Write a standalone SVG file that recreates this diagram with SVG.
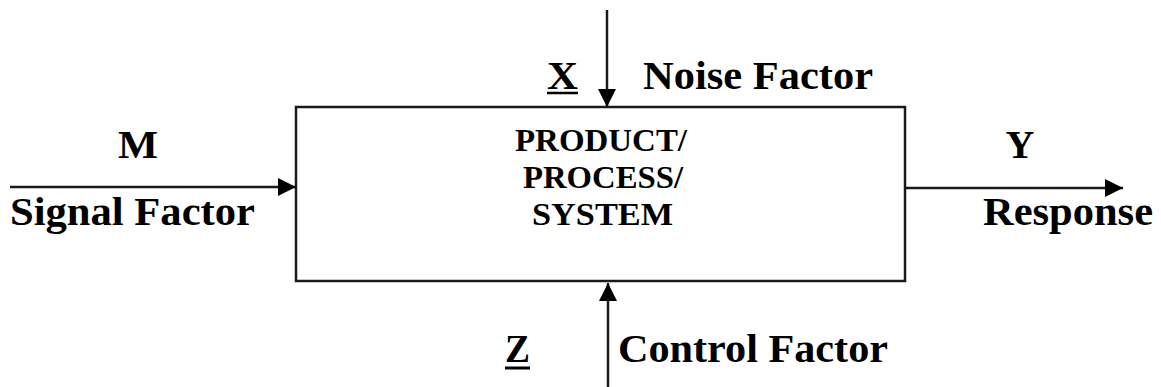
<svg xmlns="http://www.w3.org/2000/svg" width="1161" height="387" viewBox="0 0 1161 387">
<style>
text{font-family:"Liberation Serif","Times New Roman",serif;font-weight:bold;fill:#000}
.lbl{font-size:40px}
.box{font-size:32px}
.ln{stroke:#1a1a1a;stroke-width:2.5;fill:none}
</style>
<defs>
<marker id="ah" viewBox="0 0 10 10" refX="10" refY="5" markerWidth="18" markerHeight="18" markerUnits="userSpaceOnUse" orient="auto">
<path d="M0,0 L10,5 L0,10 z" fill="#000"/>
</marker>
</defs>
<rect width="1161" height="387" fill="#fff"/>
<g id="system">
<rect x="296" y="107" width="609" height="174" fill="#fff" stroke="#1a1a1a" stroke-width="2.5"/>
<text class="box" x="515" y="151" textLength="172" lengthAdjust="spacingAndGlyphs">PRODUCT/</text>
<text class="box" x="523" y="188" textLength="160" lengthAdjust="spacingAndGlyphs">PROCESS/</text>
<text class="box" x="532" y="225" textLength="141" lengthAdjust="spacingAndGlyphs">SYSTEM</text>
</g>
<g id="signal">
<text class="lbl" x="118" y="158" textLength="40" lengthAdjust="spacingAndGlyphs">M</text>
<text class="lbl" x="10" y="225" textLength="245" lengthAdjust="spacingAndGlyphs">Signal Factor</text>
</g>
<g id="noise">
<text class="lbl" x="547" y="89" textLength="31" lengthAdjust="spacingAndGlyphs">X</text>
<line x1="547" y1="93" x2="578" y2="93" stroke="#000" stroke-width="2.5"/>
<text class="lbl" x="643" y="89" textLength="230" lengthAdjust="spacingAndGlyphs">Noise Factor</text>
</g>
<g id="control">
<text class="lbl" x="505" y="362" textLength="25" lengthAdjust="spacingAndGlyphs">Z</text>
<line x1="505" y1="368" x2="530" y2="368" stroke="#000" stroke-width="3"/>
<text class="lbl" x="618" y="362" textLength="270" lengthAdjust="spacingAndGlyphs">Control Factor</text>
</g>
<g id="response">
<text class="lbl" x="1020" y="158" text-anchor="middle">Y</text>
<text class="lbl" x="983" y="225" textLength="170" lengthAdjust="spacingAndGlyphs">Response</text>
</g>
<g id="connectors">
<line class="ln" x1="10" y1="187" x2="296" y2="187" marker-end="url(#ah)"/>
<line class="ln" x1="607" y1="10" x2="607" y2="107" marker-end="url(#ah)"/>
<line class="ln" x1="608" y1="387" x2="608" y2="283" stroke="#777" marker-end="url(#ah)"/>
<line class="ln" x1="905" y1="188" x2="1123" y2="188" marker-end="url(#ah)"/>
</g>
</svg>
